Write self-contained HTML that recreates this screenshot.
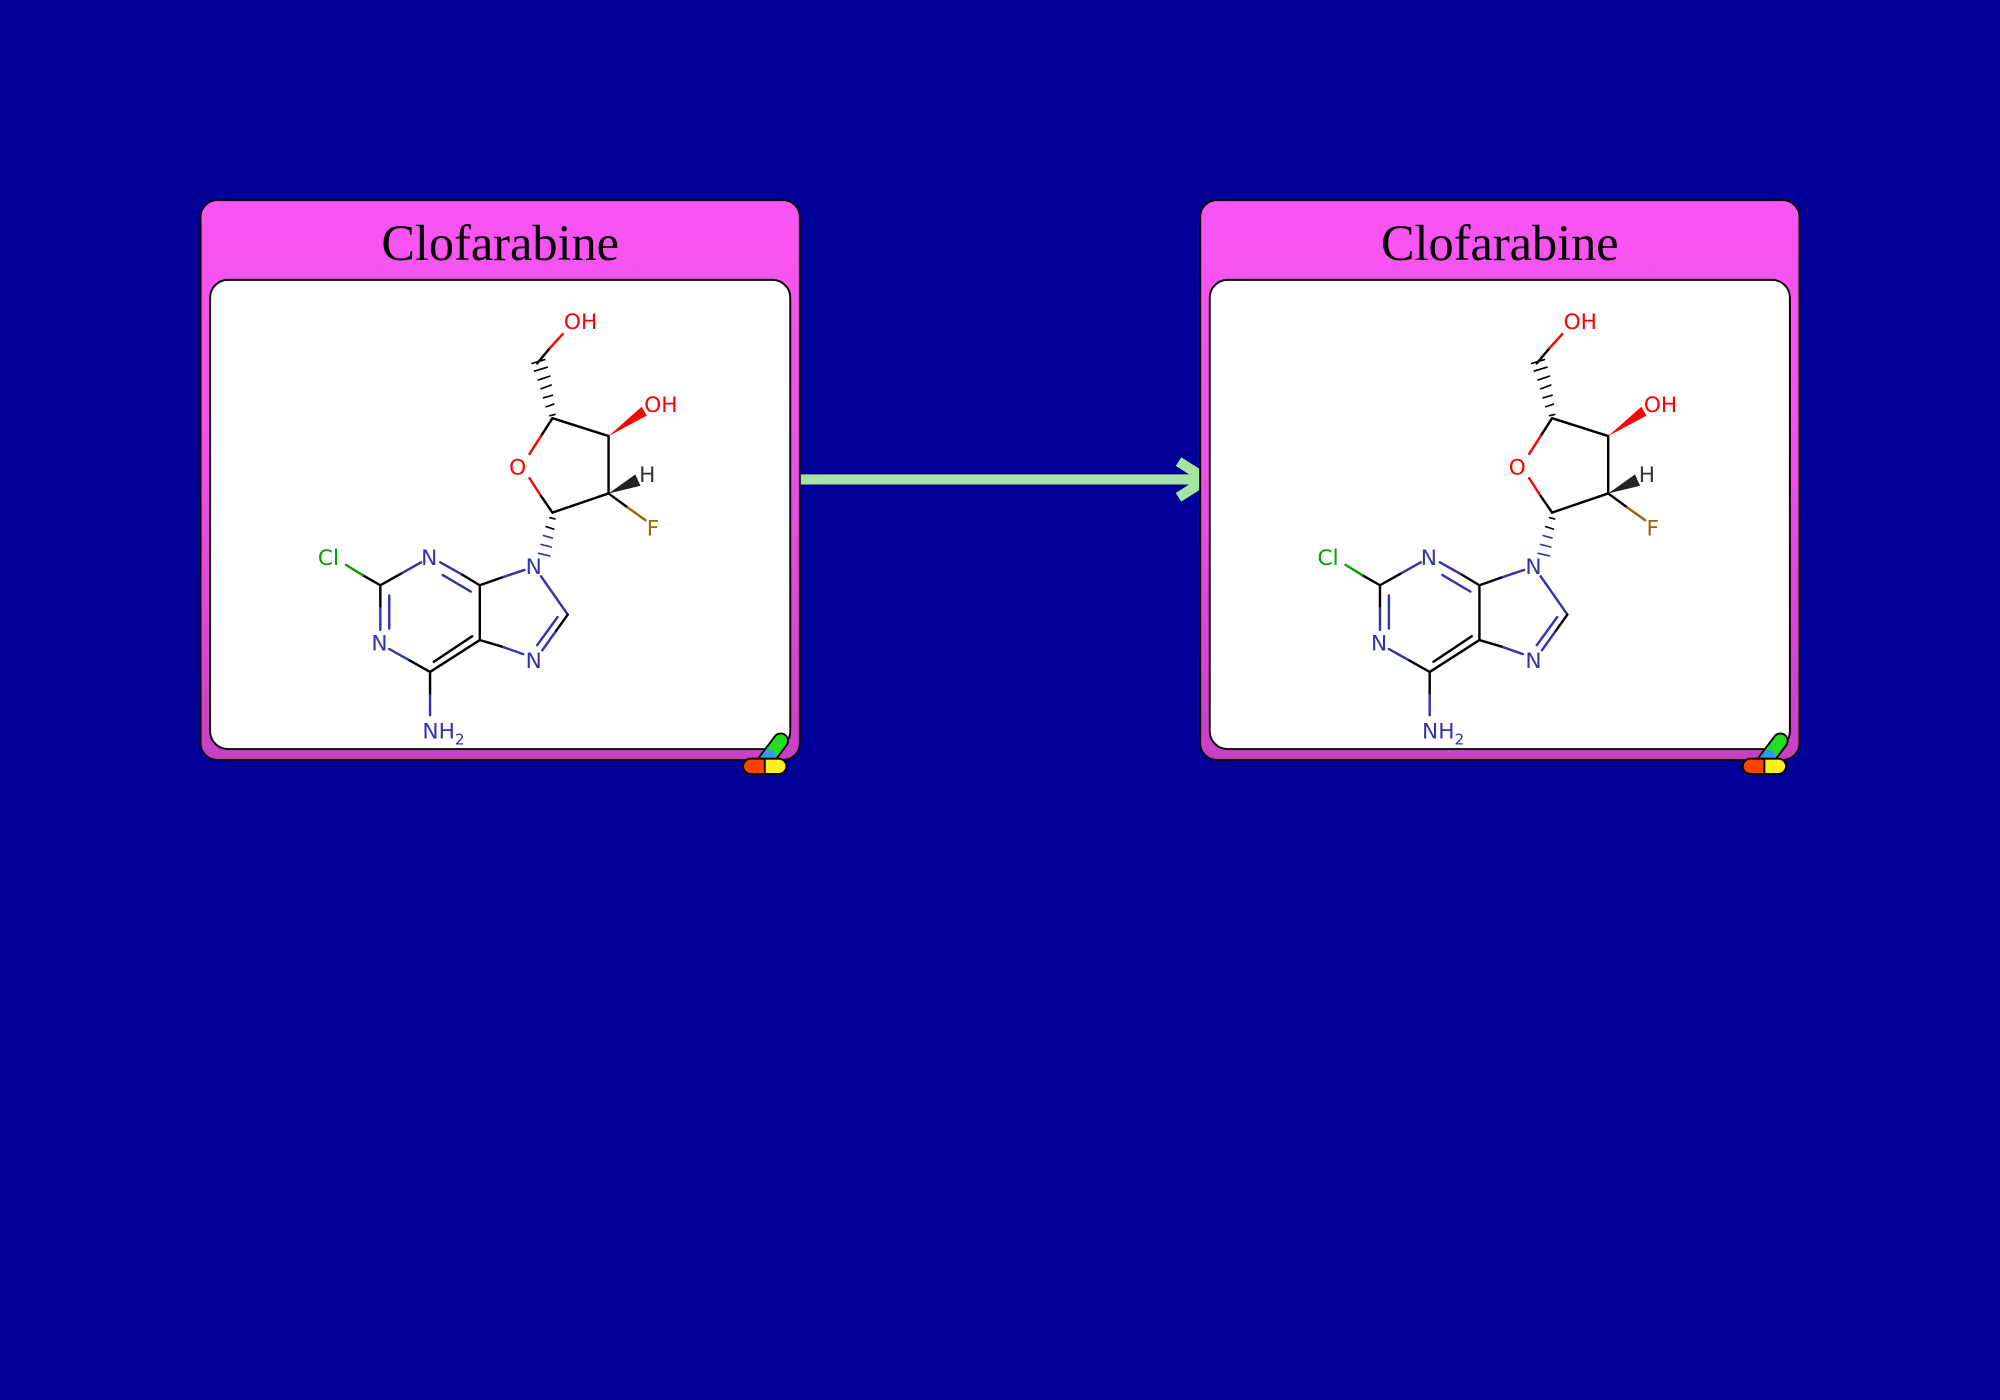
<!DOCTYPE html>
<html><head><meta charset="utf-8"><style>
html,body{margin:0;padding:0;background:#000099;}
svg{display:block}
</style></head><body>
<svg width="2000" height="1400" viewBox="0 0 1568 1098" xmlns="http://www.w3.org/2000/svg">
<defs>
<linearGradient id="pg" x1="0" y1="0" x2="0" y2="1">
<stop offset="0" stop-color="#f955f2"/><stop offset="0.45" stop-color="#f050ea"/><stop offset="1" stop-color="#c83fc4"/>
</linearGradient>
</defs>
<rect width="1568" height="1098" fill="#000099"/>

<!-- arrow -->
<line x1="627" y1="376" x2="944" y2="376" stroke="#a4e6a0" stroke-width="8"/>
<polyline points="924,362 946,376 924,390" fill="none" stroke="#a4e6a0" stroke-width="8" stroke-linejoin="miter"/>

<!-- LEFT NODE -->
<g>
<rect x="157" y="157" width="470" height="439" rx="13" fill="url(#pg)" stroke="#000" stroke-width="1.5"/>
<text x="392" y="204" font-family="Liberation Serif, serif" font-size="39.5" text-anchor="middle" fill="#000">Clofarabine</text>
<rect x="164.5" y="219.5" width="455" height="368" rx="14" fill="#fff" stroke="#000" stroke-width="1.5"/>
<g stroke-width="1.9" fill="none" stroke-linecap="round">
<line x1="421" y1="285" x2="431" y2="273" stroke="#000"/><line x1="431" y1="273" x2="441" y2="262" stroke="#f00"/>
<g stroke="#000" stroke-width="1.3"><line x1="431" y1="326" x2="435" y2="325"/><line x1="428" y1="319" x2="434" y2="317"/><line x1="426" y1="312" x2="433" y2="310"/><line x1="424" y1="305" x2="432" y2="302"/><line x1="422" y1="298" x2="431" y2="295"/><line x1="419" y1="291" x2="429" y2="288"/><line x1="417" y1="285" x2="427" y2="282"/></g>
<line x1="433" y1="328" x2="477" y2="342" stroke="#000"/>
<line x1="433" y1="328" x2="424" y2="342" stroke="#000"/><line x1="424" y1="342" x2="415" y2="356" stroke="#f00"/>
<line x1="415" y1="375" x2="424" y2="389" stroke="#f00"/><line x1="424" y1="389" x2="433" y2="402" stroke="#000"/>
<line x1="433" y1="402" x2="477" y2="387" stroke="#000"/>
<line x1="477" y1="387" x2="477" y2="342" stroke="#000"/>
<line x1="477" y1="387" x2="492" y2="398" stroke="#000"/><line x1="492" y1="398" x2="506" y2="408" stroke="#9a6a00"/>
<g stroke-width="1.3"><line x1="431" y1="406" x2="435" y2="407" stroke="#000"/><line x1="428" y1="413" x2="434" y2="415" stroke="#000"/><line x1="426" y1="420" x2="433" y2="422" stroke="#3333aa"/><line x1="424" y1="427" x2="432" y2="429" stroke="#3333aa"/><line x1="422" y1="434" x2="431" y2="436" stroke="#3333aa"/></g>
<line x1="411" y1="447" x2="393" y2="453" stroke="#3333aa"/><line x1="393" y1="453" x2="376" y2="459" stroke="#000"/>
<line x1="424" y1="452" x2="445" y2="482" stroke="#3333aa"/>
<line x1="445" y1="482" x2="435" y2="496" stroke="#000"/><line x1="435" y1="496" x2="425" y2="510" stroke="#3333aa"/>
<line x1="437" y1="484" x2="421" y2="506" stroke="#3333aa"/>
<line x1="410" y1="513" x2="393" y2="507" stroke="#3333aa"/><line x1="393" y1="507" x2="376" y2="502" stroke="#000"/>
<line x1="376" y1="502" x2="376" y2="459" stroke="#000"/>
<line x1="376" y1="459" x2="361" y2="450" stroke="#000"/><line x1="361" y1="450" x2="345" y2="441" stroke="#3333aa"/>
<line x1="369" y1="464" x2="347" y2="451" stroke="#3333aa"/>
<line x1="330" y1="441" x2="314" y2="450" stroke="#3333aa"/><line x1="314" y1="450" x2="298" y2="459" stroke="#000"/>
<line x1="298" y1="459" x2="284" y2="451" stroke="#000"/><line x1="284" y1="451" x2="271" y2="443" stroke="#00a000"/>
<line x1="298" y1="459" x2="298" y2="477" stroke="#000"/><line x1="298" y1="477" x2="298" y2="494" stroke="#3333aa"/>
<line x1="305" y1="467" x2="305" y2="493" stroke="#3333aa"/>
<line x1="305" y1="509" x2="321" y2="518" stroke="#3333aa"/><line x1="321" y1="518" x2="337" y2="527" stroke="#000"/>
<line x1="337" y1="527" x2="376" y2="502" stroke="#000"/>
<line x1="340" y1="519" x2="370" y2="499" stroke="#000"/>
<line x1="337" y1="527" x2="337" y2="545" stroke="#000"/><line x1="337" y1="545" x2="337" y2="561" stroke="#3333aa"/>
</g>
<polygon points="477,342 503,319 507,326" fill="#f00"/>
<polygon points="477,387 498,372 502,381" fill="#222"/>
<g font-family="DejaVu Sans, sans-serif" font-size="17">
<text x="442" y="258" fill="#f00">OH</text>
<text x="505" y="323" fill="#f00">OH</text>
<text x="399" y="372" fill="#f00">O</text>
<text x="501" y="378" fill="#333">H</text>
<text x="507" y="420" fill="#9a6a00">F</text>
<text x="412" y="450" fill="#3333aa">N</text>
<text x="412" y="524" fill="#3333aa">N</text>
<text x="330" y="443" fill="#3333aa">N</text>
<text x="291" y="510" fill="#3333aa">N</text>
<text x="249" y="443" fill="#00a000">Cl</text>
<text x="331" y="579" fill="#3333aa">NH<tspan font-size="12" dy="5">2</tspan></text>
</g>
<g stroke="#000" stroke-width="1.5">
<line x1="612" y1="581" x2="600" y2="597" stroke-width="13" stroke-linecap="round"/>
<line x1="612" y1="581" x2="600" y2="597" stroke="#22dd22" stroke-width="10" stroke-linecap="round"/>
<line x1="603" y1="593" x2="600" y2="597" stroke="#3399ee" stroke-width="10" stroke-linecap="round"/>
<rect x="582.5" y="595" width="34" height="12" rx="6" fill="#ffee22"/>
<path d="M599.5,595 H588.5 A6,6 0 0 0 588.5,607 H599.5 Z" fill="#ff4400"/>
</g>
</g>

<!-- RIGHT NODE -->
<g transform="translate(784,0)">
<rect x="157" y="157" width="470" height="439" rx="13" fill="url(#pg)" stroke="#000" stroke-width="1.5"/>
<text x="392" y="204" font-family="Liberation Serif, serif" font-size="39.5" text-anchor="middle" fill="#000">Clofarabine</text>
<rect x="164.5" y="219.5" width="455" height="368" rx="14" fill="#fff" stroke="#000" stroke-width="1.5"/>
<g stroke-width="1.9" fill="none" stroke-linecap="round">
<line x1="421" y1="285" x2="431" y2="273" stroke="#000"/><line x1="431" y1="273" x2="441" y2="262" stroke="#f00"/>
<g stroke="#000" stroke-width="1.3"><line x1="431" y1="326" x2="435" y2="325"/><line x1="428" y1="319" x2="434" y2="317"/><line x1="426" y1="312" x2="433" y2="310"/><line x1="424" y1="305" x2="432" y2="302"/><line x1="422" y1="298" x2="431" y2="295"/><line x1="419" y1="291" x2="429" y2="288"/><line x1="417" y1="285" x2="427" y2="282"/></g>
<line x1="433" y1="328" x2="477" y2="342" stroke="#000"/>
<line x1="433" y1="328" x2="424" y2="342" stroke="#000"/><line x1="424" y1="342" x2="415" y2="356" stroke="#f00"/>
<line x1="415" y1="375" x2="424" y2="389" stroke="#f00"/><line x1="424" y1="389" x2="433" y2="402" stroke="#000"/>
<line x1="433" y1="402" x2="477" y2="387" stroke="#000"/>
<line x1="477" y1="387" x2="477" y2="342" stroke="#000"/>
<line x1="477" y1="387" x2="492" y2="398" stroke="#000"/><line x1="492" y1="398" x2="506" y2="408" stroke="#9a6a00"/>
<g stroke-width="1.3"><line x1="431" y1="406" x2="435" y2="407" stroke="#000"/><line x1="428" y1="413" x2="434" y2="415" stroke="#000"/><line x1="426" y1="420" x2="433" y2="422" stroke="#3333aa"/><line x1="424" y1="427" x2="432" y2="429" stroke="#3333aa"/><line x1="422" y1="434" x2="431" y2="436" stroke="#3333aa"/></g>
<line x1="411" y1="447" x2="393" y2="453" stroke="#3333aa"/><line x1="393" y1="453" x2="376" y2="459" stroke="#000"/>
<line x1="424" y1="452" x2="445" y2="482" stroke="#3333aa"/>
<line x1="445" y1="482" x2="435" y2="496" stroke="#000"/><line x1="435" y1="496" x2="425" y2="510" stroke="#3333aa"/>
<line x1="437" y1="484" x2="421" y2="506" stroke="#3333aa"/>
<line x1="410" y1="513" x2="393" y2="507" stroke="#3333aa"/><line x1="393" y1="507" x2="376" y2="502" stroke="#000"/>
<line x1="376" y1="502" x2="376" y2="459" stroke="#000"/>
<line x1="376" y1="459" x2="361" y2="450" stroke="#000"/><line x1="361" y1="450" x2="345" y2="441" stroke="#3333aa"/>
<line x1="369" y1="464" x2="347" y2="451" stroke="#3333aa"/>
<line x1="330" y1="441" x2="314" y2="450" stroke="#3333aa"/><line x1="314" y1="450" x2="298" y2="459" stroke="#000"/>
<line x1="298" y1="459" x2="284" y2="451" stroke="#000"/><line x1="284" y1="451" x2="271" y2="443" stroke="#00a000"/>
<line x1="298" y1="459" x2="298" y2="477" stroke="#000"/><line x1="298" y1="477" x2="298" y2="494" stroke="#3333aa"/>
<line x1="305" y1="467" x2="305" y2="493" stroke="#3333aa"/>
<line x1="305" y1="509" x2="321" y2="518" stroke="#3333aa"/><line x1="321" y1="518" x2="337" y2="527" stroke="#000"/>
<line x1="337" y1="527" x2="376" y2="502" stroke="#000"/>
<line x1="340" y1="519" x2="370" y2="499" stroke="#000"/>
<line x1="337" y1="527" x2="337" y2="545" stroke="#000"/><line x1="337" y1="545" x2="337" y2="561" stroke="#3333aa"/>
</g>
<polygon points="477,342 503,319 507,326" fill="#f00"/>
<polygon points="477,387 498,372 502,381" fill="#222"/>
<g font-family="DejaVu Sans, sans-serif" font-size="17">
<text x="442" y="258" fill="#f00">OH</text>
<text x="505" y="323" fill="#f00">OH</text>
<text x="399" y="372" fill="#f00">O</text>
<text x="501" y="378" fill="#333">H</text>
<text x="507" y="420" fill="#9a6a00">F</text>
<text x="412" y="450" fill="#3333aa">N</text>
<text x="412" y="524" fill="#3333aa">N</text>
<text x="330" y="443" fill="#3333aa">N</text>
<text x="291" y="510" fill="#3333aa">N</text>
<text x="249" y="443" fill="#00a000">Cl</text>
<text x="331" y="579" fill="#3333aa">NH<tspan font-size="12" dy="5">2</tspan></text>
</g>
<g stroke="#000" stroke-width="1.5">
<line x1="612" y1="581" x2="600" y2="597" stroke-width="13" stroke-linecap="round"/>
<line x1="612" y1="581" x2="600" y2="597" stroke="#22dd22" stroke-width="10" stroke-linecap="round"/>
<line x1="603" y1="593" x2="600" y2="597" stroke="#3399ee" stroke-width="10" stroke-linecap="round"/>
<rect x="582.5" y="595" width="34" height="12" rx="6" fill="#ffee22"/>
<path d="M599.5,595 H588.5 A6,6 0 0 0 588.5,607 H599.5 Z" fill="#ff4400"/>
</g>
</g>
</svg>
</body></html>
